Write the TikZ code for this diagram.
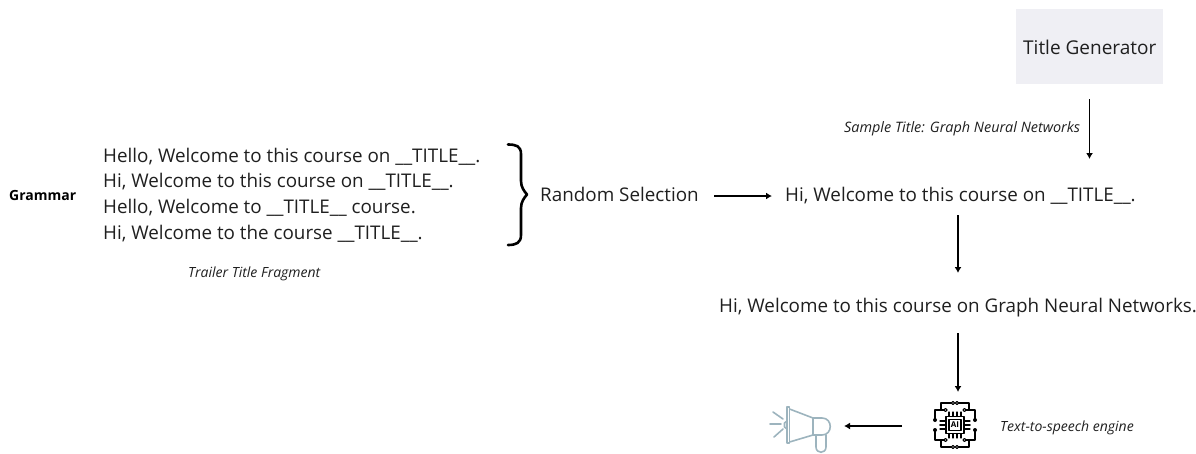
\documentclass[tikz,border=0pt]{standalone}
\usepackage{fontspec}
\setmainfont{Open Sans}
\usetikzlibrary{arrows.meta}
\definecolor{boxfill}{HTML}{EFEFF4}
\definecolor{horn}{HTML}{9DB4BE}
\tikzset{
  x=1pt,y=-1pt,
  txt/.style={inner sep=0pt,anchor=base west,font=\fontsize{18.83}{24}\selectfont,text=black!88},
  capt/.style={inner sep=0pt,anchor=base west,font=\fontsize{14}{16}\selectfont\itshape,text=black!88},
  arr/.style={draw=black,line width=1.4pt,-{Latex[length=6pt,width=7pt]}},
  chipline/.style={draw=black,line width=1.1pt,line cap=round,line join=round},
  hornline/.style={draw=horn,line width=1.6pt,line cap=round,line join=round},
}
\begin{document}
\begin{tikzpicture}
\useasboundingbox (0,0) rectangle (1196,453);
\node[fill=boxfill,minimum width=147pt,minimum height=75pt,inner sep=0pt] (gen) at (1089,46) {};
\node[txt,font=\fontsize{19}{24}\selectfont] (gent) at (1023,54) {Title Generator};
\node[inner sep=0pt,anchor=base west,font=\fontsize{14}{16}\selectfont\bfseries] (gram) at (9,200) {Grammar};
\node[txt] (l1) at (103,162) {Hello, Welcome to this course on \_\_TITLE\_\_.};
\node[txt] (l2) at (103,187.7) {Hi, Welcome to this course on \_\_TITLE\_\_.};
\node[txt] (l3) at (103,213.5) {Hello, Welcome to \_\_TITLE\_\_ course.};
\node[txt] (l4) at (103,239.3) {Hi, Welcome to the course \_\_TITLE\_\_.};
\node[capt] (frag) at (188,277) {Trailer Title Fragment};
\node[txt] (rand) at (540,201) {Random Selection};
\node[txt] (pick) at (785,201) {Hi, Welcome to this course on \_\_TITLE\_\_.};
\node[capt,font=\fontsize{14.4}{16}\selectfont\itshape] (samp) at (844,132) {Sample Title: Graph Neural Networks};
\node[txt] (full) at (719,312) {Hi, Welcome to this course on Graph Neural Networks.};
\node[capt] (tts) at (1000,431) {Text-to-speech engine};
\draw[line width=2.6pt,line cap=round,line join=round] (508,144.5) .. controls (516,144.5) and (521,146) .. (521,154) -- (521,181) .. controls (521,187) and (524,191) .. (527,194.5) .. controls (524,198) and (521,202) .. (521,208) -- (521,235) .. controls (521,243) and (516,245) .. (508,245);
\coordinate (a1) at (714,196); \coordinate (a2) at (772,196);
\draw[arr] (a1) -- (a2);
\coordinate (b1) at (1089.5,99); \coordinate (b2) at (1089.5,159);
\draw[arr] (b1) -- (b2);
\coordinate (c1) at (958,215); \coordinate (c2) at (958,273);
\draw[arr] (c1) -- (c2);
\coordinate (d1) at (958,333); \coordinate (d2) at (958,392);
\draw[arr] (d1) -- (d2);
\coordinate (e1) at (902,426); \coordinate (e2) at (844,426);
\draw[arr] (e1) -- (e2);
% megaphone
\draw[hornline] (787,407) -- (787,443) -- (789.5,443) -- (789.5,407) -- cycle;
\draw[hornline] (789.5,409) -- (813,418) -- (813,435) -- (789.5,442);
\draw[hornline] (787,421) -- (784.5,423) -- (784.5,427) -- (787,429);
\draw[hornline] (813,418) -- (822,418) .. controls (833,418) and (833,435) .. (822,435) -- (813,435);
\draw[hornline] (816,435) -- (816,447) .. controls (816,454) and (826,454) .. (826,447) -- (826,435);
\draw[hornline] (781,424) -- (770,424);
\draw[hornline] (783,419) -- (773,412);
\draw[hornline] (783,429) -- (774,437);
% chip
\begin{scope}[shift={(955,425)}]
\draw[chipline,line width=1.2pt] (-9,-8.5) rectangle (9,8.5);
\draw[chipline] (-6,-5.5) rectangle (6,5.5);
\node[font=\fontsize{8}{8}\selectfont\bfseries,inner sep=0pt] (ai) at (0,0) {AI};
\foreach \sx in {-1,1} \foreach \sy in {-1,1} {
  \begin{scope}[xscale=\sx,yscale=\sy]
  \draw[chipline] (-6,-8.5) -- (-6,-13);
  \draw[chipline] (-2,-8.5) -- (-2,-13);
  \draw[chipline] (-9,-4) -- (-15,-4);
  \draw[chipline] (-9,-0.5) -- (-15,-0.5);
  \draw[chipline] (-3.5,-22) -- (-14,-22) -- (-14,-15) -- (-20,-15) -- (-20,-6);
  \draw[chipline] (-14,-15) -- (-11,-15);
  \draw[chipline,fill=white] (-2,-22) circle (1.6pt);
  \draw[chipline,fill=white] (-9.5,-15) circle (1.6pt);
  \fill (-20,-5) circle (2pt);
  \end{scope}
}
\end{scope}
\end{tikzpicture}
\end{document}
